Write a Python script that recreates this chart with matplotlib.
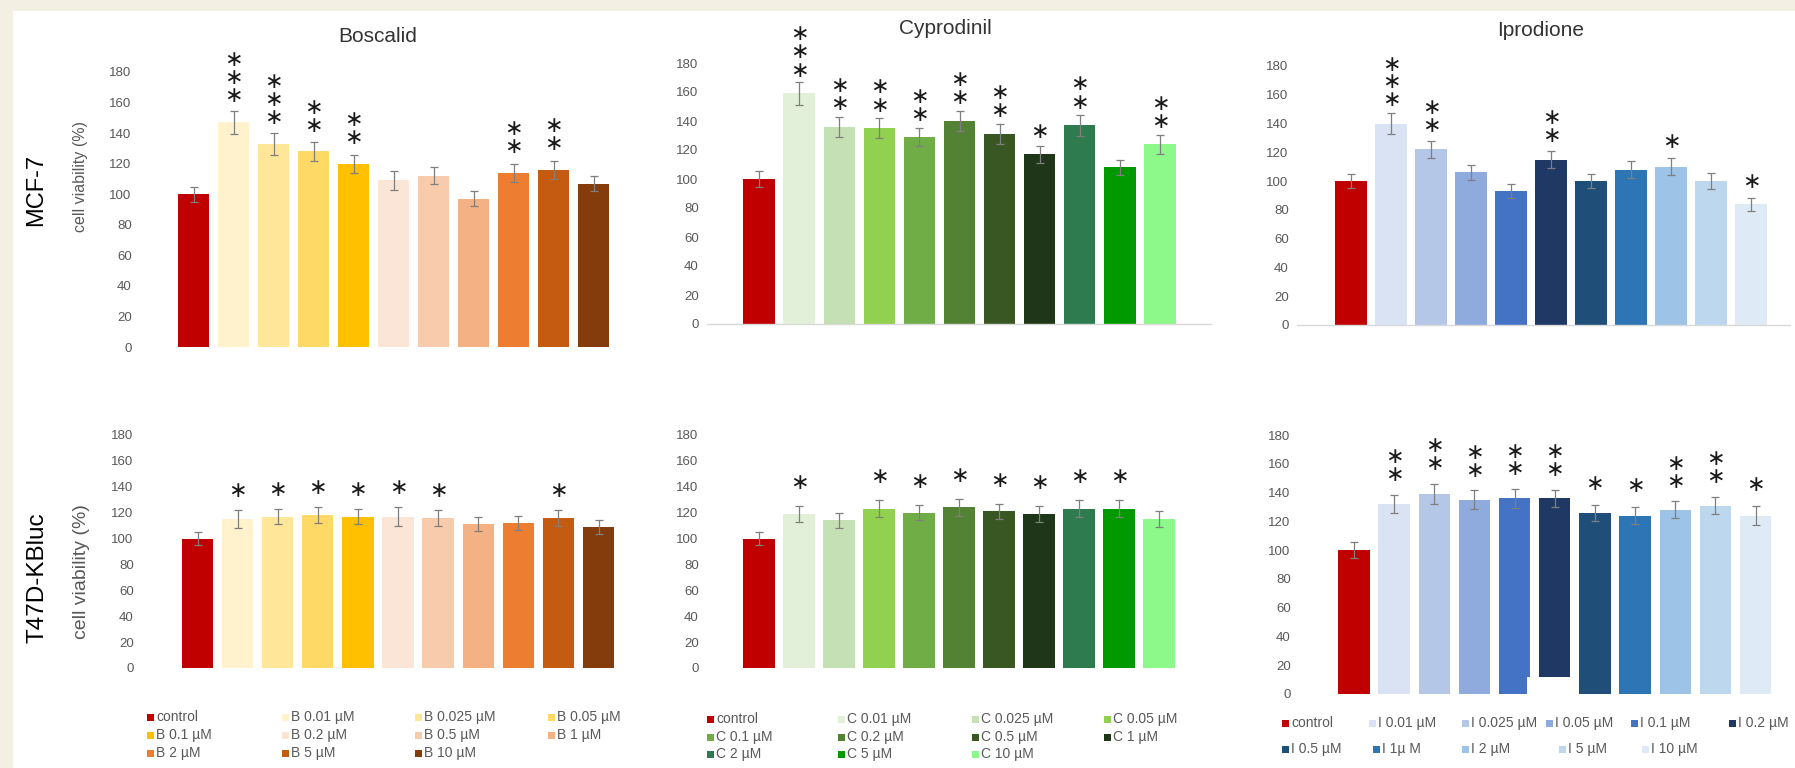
import matplotlib
matplotlib.use("Agg")
import matplotlib.pyplot as plt
from matplotlib.patches import Rectangle

plt.rcParams['font.family'] = ['Liberation Sans', 'DejaVu Sans']

# ---------------- data ----------------
boscalid_labels = ["control", "B 0.01 µM", "B 0.025 µM", "B 0.05 µM", "B 0.1 µM", "B 0.2 µM",
                   "B 0.5 µM", "B 1 µM", "B 2 µM", "B 5 µM", "B 10 µM"]
cyprodinil_labels = ["control", "C 0.01 µM", "C 0.025 µM", "C 0.05 µM", "C 0.1 µM", "C 0.2 µM",
                     "C 0.5 µM", "C 1 µM", "C 2 µM", "C 5 µM", "C 10 µM"]
iprodione_labels = ["control", "I 0.01 µM", "I 0.025 µM", "I 0.05 µM", "I 0.1 µM", "I 0.2 µM",
                    "I 0.5 µM", "I 1µ M", "I 2 µM", "I 5 µM", "I 10 µM"]

boscalid_colors = ["#C00000", "#FFF2CC", "#FFE699", "#FFD966", "#FFC000", "#FBE5D6",
                   "#F8CBAD", "#F4B183", "#ED7D31", "#C55A11", "#843C0C"]
cyprodinil_colors = ["#C00000", "#E2F0D9", "#C5E0B4", "#92D050", "#70AD47", "#548235",
                     "#385723", "#203618", "#2E7B50", "#009A00", "#8CF98A"]
iprodione_colors = ["#C00000", "#DAE3F3", "#B4C7E7", "#8FAADC", "#4472C4", "#203864",
                    "#1F4E79", "#2E75B6", "#9DC3E6", "#BDD7EE", "#DEEBF7"]

bos_mcf7 = [100, 147, 133, 128, 120, 109, 112, 97, 114, 116, 107]
bos_mcf7_err = [5, 7.5, 7, 6, 6, 6, 5.5, 5, 6, 6, 5]
bos_mcf7_stars = [0, 3, 3, 2, 2, 0, 0, 0, 2, 2, 0]

cyp_mcf7 = [100, 159, 136, 135, 129, 140, 131, 117, 137, 108, 124]
cyp_mcf7_err = [5.5, 8, 7, 7, 6.5, 7, 7, 6, 7, 5, 6.5]
cyp_mcf7_stars = [0, 3, 2, 2, 2, 2, 2, 1, 2, 0, 2]

ipr_mcf7 = [100, 140, 122, 106, 93, 115, 100, 108, 110, 100, 84]
ipr_mcf7_err = [5, 7, 6, 5.5, 5, 6, 5, 6, 6, 5.5, 4.5]
ipr_mcf7_stars = [0, 3, 2, 0, 0, 2, 0, 0, 1, 0, 1]

bos_t47d = [100, 115, 117, 118, 117, 117, 116, 111, 112, 116, 109]
bos_t47d_err = [5, 7, 6, 6, 6, 7, 6, 5.5, 5.5, 6, 5.5]
bos_t47d_stars = [0, 1, 1, 1, 1, 1, 1, 0, 0, 1, 0]

cyp_t47d = [100, 119, 114, 123, 120, 124, 121, 119, 123, 123, 115]
cyp_t47d_err = [5, 6.5, 5.5, 6.5, 6, 6.5, 6, 6, 6.5, 6.5, 6]
cyp_t47d_stars = [0, 1, 0, 1, 1, 1, 1, 1, 1, 1, 0]

ipr_t47d = [100, 132, 139, 135, 136, 136, 126, 124, 128, 131, 124]
ipr_t47d_err = [5.5, 6.5, 7, 6.5, 6.5, 6, 5.5, 6, 6, 6, 6.5]
ipr_t47d_stars = [0, 2, 2, 2, 2, 2, 1, 1, 2, 2, 1]

yticks = [0, 20, 40, 60, 80, 100, 120, 140, 160, 180]
titles = ["Boscalid", "Cyprodinil", "Iprodione"]
row_labels = ["MCF-7", "T47D-KBluc"]
ylabel = "cell viability (%)"

# ---------------- figure ----------------
W, H = 1795, 768
fig = plt.figure(figsize=(W / 100, H / 100), dpi=100)
fig.patch.set_facecolor("#F3F0E3")
fig.patches.append(Rectangle((13 / W, 0), 1 - 13 / W, (H - 11) / H, transform=fig.transFigure,
                             facecolor="white", edgecolor="none", zorder=-5))

PX = 0.72  # points per pixel
STAR_FS = 16


def fx(px):
    return px / W


def fy(py):
    return 1 - py / H


def panel(xl, xr, y180, y0, c0, pitch, vals, errs, stars, colors, baseline,
          star_base=17, star_step=15):
    ax = fig.add_axes([fx(xl), fy(y0), (xr - xl) / W, (y0 - y180) / H])
    ax.set_facecolor("none")
    ax.set_zorder(1)
    x = list(range(len(vals)))
    ax.bar(x, vals, width=0.78, color=colors, zorder=2)
    ax.errorbar(x, vals, yerr=errs, fmt="none", ecolor="#7F7F7F", elinewidth=0.9,
                capsize=3, capthick=0.9, zorder=3)
    ls = star_step * PX / (STAR_FS * 0.78)
    for i, n in enumerate(stars):
        if n == 0:
            continue
        off = star_base + (n - 1) / 2 * star_step
        ax.annotate("\n".join(["∗"] * n), xy=(i, vals[i] + errs[i]),
                    xytext=(0, off * PX), textcoords="offset points",
                    ha="center", va="center", multialignment="center",
                    linespacing=ls, fontsize=STAR_FS, family="DejaVu Sans",
                    color="#1a1a1a", annotation_clip=False)
    ax.set_ylim(0, 180)
    ax.set_xlim((xl - c0) / pitch, (xr - c0) / pitch)
    ax.set_yticks(yticks)
    ax.set_xticks([])
    ax.tick_params(axis="y", length=0, pad=6, labelsize=9.5, labelcolor="#595959")
    for s in ["top", "right", "left"]:
        ax.spines[s].set_visible(False)
    if baseline:
        ax.spines["bottom"].set_color("#D9D9D9")
        ax.spines["bottom"].set_linewidth(1)
    else:
        ax.spines["bottom"].set_visible(False)
    return ax


panel(140, 620, 72, 347, 193.5, 40.0, bos_mcf7, bos_mcf7_err, bos_mcf7_stars,
      boscalid_colors, False, star_base=18, star_step=15)
panel(707, 1211, 63, 324, 759, 40.1, cyp_mcf7, cyp_mcf7_err, cyp_mcf7_stars,
      cyprodinil_colors, True, star_base=14, star_step=15.5)
panel(1297, 1790, 66, 325, 1351, 40.0, ipr_mcf7, ipr_mcf7_err, ipr_mcf7_stars,
      iprodione_colors, True, star_base=16, star_step=15)
panel(142, 620, 435, 668, 197.5, 40.1, bos_t47d, bos_t47d_err, bos_t47d_stars,
      boscalid_colors, False, star_base=19)
panel(707, 1200, 435, 668, 759, 40.0, cyp_t47d, cyp_t47d_err, cyp_t47d_stars,
      cyprodinil_colors, False, star_base=23)
panel(1299, 1790, 435, 694, 1354, 40.15, ipr_t47d, ipr_t47d_err, ipr_t47d_stars,
      iprodione_colors, False, star_base=21, star_step=15)

# white cover artefact present in the source image
cover_ax = fig.add_axes([0, 0, 1, 1])
cover_ax.set_axis_off()
cover_ax.set_zorder(5)
cover_ax.set_xlim(0, W)
cover_ax.set_ylim(H, 0)
cover_ax.add_patch(Rectangle((1527, 677), 48, 22, facecolor="white", edgecolor="none"))

# titles
for t, cx, cy in zip(titles, [378, 945, 1541], [36, 29, 31]):
    fig.text(fx(cx), fy(cy), t, ha="center", va="center", fontsize=15, color="#333333")

# row labels and y labels
fig.text(fx(36), fy(190), row_labels[0], rotation=90, ha="center", va="center",
         fontsize=17, color="black")
fig.text(fx(38), fy(578), row_labels[1], rotation=90, ha="center", va="center",
         fontsize=17.5, color="black")
fig.text(fx(81), fy(176), ylabel, rotation=90, ha="center", va="center",
         fontsize=11.5, color="#595959")
fig.text(fx(81), fy(572), ylabel, rotation=90, ha="center", va="center",
         fontsize=14, color="#595959")


# legends
def legend(labels, colors, rows):
    idx = 0
    for rowy, cols in rows:
        for cx in cols:
            if idx >= len(labels):
                break
            cover_ax.add_patch(Rectangle((cx, rowy - 3.5), 7, 7, facecolor=colors[idx],
                                         edgecolor="none"))
            fig.text(fx(cx + 9), fy(rowy), labels[idx], ha="left", va="center",
                     fontsize=10, color="#595959")
            idx += 1


legend(boscalid_labels, boscalid_colors,
       [(717, [147, 282, 415, 548]), (735, [147, 282, 415, 548]), (753, [147, 282, 415])])
legend(cyprodinil_labels, cyprodinil_colors,
       [(719, [707, 838, 972, 1104]), (737, [707, 838, 972, 1104]), (754, [707, 838, 972])])
legend(iprodione_labels, iprodione_colors,
       [(723, [1282, 1369, 1462, 1546, 1631, 1729]), (749, [1282, 1373, 1462, 1559, 1642])])

fig.savefig("out.png", dpi=100, facecolor=fig.get_facecolor())
